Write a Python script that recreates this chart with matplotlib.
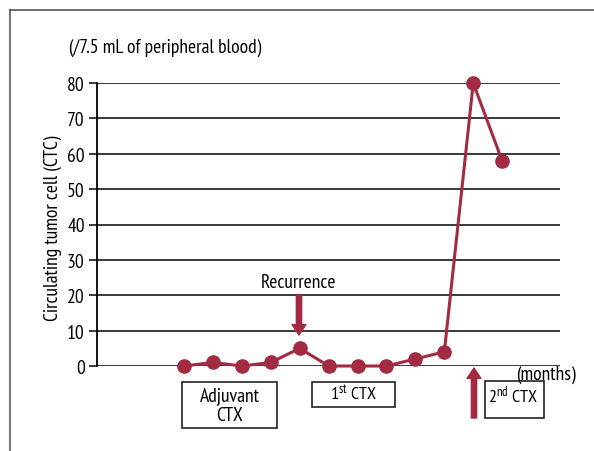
import matplotlib
matplotlib.use("Agg")
import matplotlib.pyplot as plt
from matplotlib.patches import Rectangle
from matplotlib.lines import Line2D

FONT = 'PT Sans Narrow'
plt.rcParams['font.family'] = [FONT, 'DejaVu Sans']
plt.rcParams['mathtext.fontset'] = 'custom'
plt.rcParams['mathtext.rm'] = FONT
plt.rcParams['mathtext.it'] = FONT

# Data
months = [3, 4, 5, 6, 7, 8, 9, 10, 11, 12, 13, 14]
ctc = [0, 1, 0, 1, 5, 0, 0, 0, 2, 4, 80, 58]
yticks = [0, 10, 20, 30, 40, 50, 60, 70, 80]

RED = '#A22B42'
W, H = 594, 452
FS = 14
fig = plt.figure(figsize=(W / 100, H / 100), dpi=100)

def fx(px):
    return px / W

def fy(py):
    return 1 - py / H

ax = fig.add_axes([fx(97.3), fy(367), fx(560) - fx(97.3), fy(84) - fy(367)])
ax.set_xlim(0, 16)
ax.set_ylim(0, 80)
for y in yticks:
    ax.axhline(y, color='#2a2a2a', lw=1.3, zorder=1)
ax.plot(months, ctc, color=RED, lw=2.2, marker='o', ms=9.5, clip_on=False, zorder=3)

for s in ['top', 'right', 'bottom']:
    ax.spines[s].set_visible(False)
ax.spines['left'].set_color('black')
ax.spines['left'].set_linewidth(1.3)
ax.set_xticks([])
ax.set_yticks(yticks)
ax.set_yticklabels([str(v) for v in yticks], fontsize=FS)
ax.tick_params(axis='y', length=6, width=1.3, color='#2a2a2a', pad=3)

# y-label and unit
fig.text(fx(53), fy(228), 'Circulating tumor cell (CTC)', rotation=90,
         ha='center', va='center', fontsize=FS)
fig.text(fx(69), fy(48), '(/7.5 mL of peripheral blood)', ha='left', va='center', fontsize=FS)
fig.text(fx(546), fy(375), '(months)', ha='center', va='center', fontsize=FS)

# Outer frame (left and top)
fig.add_artist(Line2D([fx(10), fx(10)], [fy(11), fy(452)], color='#777777', lw=1.5))
fig.add_artist(Line2D([fx(10), fx(594)], [fy(11), fy(11)], color='#555555', lw=1.2))

# Recurrence arrow
fig.text(fx(299), fy(283), 'Recurrence', ha='center', va='center', fontsize=FS)
arrow_style = 'simple,head_width=1.0,head_length=0.75,tail_width=0.38'
ax.annotate('', xy=(299, H - 336), xytext=(299, H - 296), xycoords='figure pixels',
            textcoords='figure pixels',
            arrowprops=dict(arrowstyle=arrow_style, color=RED, mutation_scale=10, shrinkA=0, shrinkB=0))
# 2nd CTX arrow
ax.annotate('', xy=(474, H - 369), xytext=(474, H - 419), xycoords='figure pixels',
            textcoords='figure pixels',
            arrowprops=dict(arrowstyle=arrow_style, color=RED, mutation_scale=10, shrinkA=0, shrinkB=0))

# Boxes
def box(x0, y0, x1, y1):
    fig.add_artist(Rectangle((fx(x0), fy(y1)), fx(x1) - fx(x0), fy(y0) - fy(y1),
                             fill=False, ec='#222222', lw=1.2))

box(182, 383, 277, 429)
fig.text(fx(229.5), fy(406), 'Adjuvant\nCTX', ha='center', va='center', fontsize=FS,
         linespacing=1.1)
box(312, 383, 395, 408)
fig.text(fx(353.5), fy(395.5), r'1$^{\mathrm{st}}$ CTX', ha='center', va='center', fontsize=13)
box(485, 382, 544, 419)
fig.text(fx(488), fy(395), r'2$^{\mathrm{nd}}$ CTX', ha='left', va='center', fontsize=13)

fig.savefig('out.png', dpi=100)
